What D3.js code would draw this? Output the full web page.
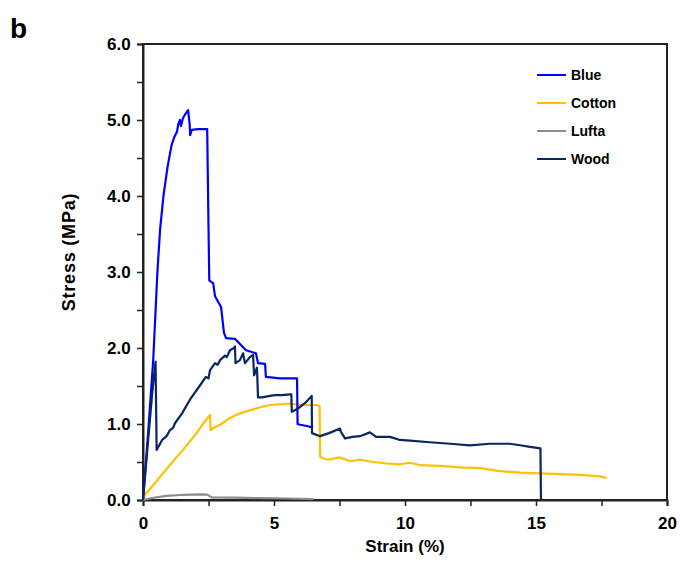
<!DOCTYPE html>
<html><head><meta charset="utf-8">
<script src="https://cdn.jsdelivr.net/npm/d3@7"></script>
<style>body{margin:0;background:#fff}svg{display:block}text{font-family:"Liberation Sans",Arial,sans-serif;font-weight:bold}</style>
</head><body><svg id="c" width="680" height="580"></svg>
<script>
const seriesNames = ["Blue","Cotton","Lufta","Wood"];
const seriesColors = ["#0000FF","#FFC000","#8C8C8C","#0A2662"];
const xTicks = [0,5,10,15,20];
const yTicks = [0,1,2,3,4,5,6];
const blue = [[0,0],[0.2,0.9],[0.39,1.84],[0.55,3.0],[0.65,3.55],[0.78,4.0],[0.94,4.39],[1.09,4.67],[1.2,4.78],[1.3,4.85],[1.35,4.95],[1.41,5.0],[1.45,4.92],[1.52,5.02],[1.6,5.07],[1.72,5.13],[1.78,4.95],[1.8,4.8],[1.86,4.87],[2.1,4.88],[2.45,4.88],[2.5,3.6],[2.53,2.89],[2.68,2.85],[2.75,2.68],[2.98,2.54],[3.09,2.2],[3.17,2.13],[3.51,2.12],[3.85,2.0],[3.93,1.97],[4.31,1.93],[4.39,1.8],[4.66,1.79],[4.69,1.62],[5.23,1.6],[5.88,1.6],[5.9,1.0],[6.0,0.99],[6.3,0.97],[6.49,0.95]];
const cotton = [[0,0],[0.1,0.08],[0.5,0.24],[1.0,0.45],[1.5,0.65],[2.0,0.86],[2.4,1.05],[2.56,1.12],[2.58,0.92],[2.75,0.96],[2.95,0.99],[3.32,1.08],[3.7,1.14],[4.08,1.18],[4.47,1.22],[4.85,1.25],[5.23,1.26],[5.61,1.27],[5.99,1.25],[6.56,1.25],[6.74,1.24],[6.76,0.57],[6.85,0.55],[7.06,0.53],[7.52,0.56],[7.9,0.51],[8.28,0.53],[8.8,0.5],[9.3,0.48],[9.81,0.47],[10.2,0.49],[10.57,0.46],[11.34,0.45],[12.1,0.43],[12.86,0.42],[13.63,0.38],[14.39,0.36],[15.15,0.35],[15.92,0.34],[16.68,0.33],[17.44,0.31],[17.7,0.29]];
const lufta = [[0,0],[0.4,0.03],[0.9,0.055],[1.41,0.066],[1.8,0.072],[2.18,0.075],[2.45,0.07],[2.62,0.035],[3.5,0.03],[4.5,0.025],[5.5,0.02],[6.5,0.012]];
const wood = [[0,0],[0.2,0.8],[0.35,1.4],[0.48,1.82],[0.52,0.66],[0.73,0.79],[0.9,0.84],[1.03,0.92],[1.15,0.95],[1.22,1.01],[1.49,1.14],[1.79,1.32],[2.18,1.51],[2.4,1.62],[2.5,1.6],[2.56,1.71],[2.75,1.8],[2.85,1.78],[2.94,1.84],[3.13,1.9],[3.2,1.88],[3.32,1.97],[3.47,2.0],[3.51,2.02],[3.53,1.8],[3.7,1.84],[3.82,1.93],[3.89,1.8],[4.08,1.88],[4.2,1.91],[4.24,1.64],[4.35,1.74],[4.39,1.35],[4.54,1.35],[4.85,1.37],[5.04,1.38],[5.31,1.38],[5.61,1.39],[5.66,1.39],[5.68,1.16],[5.9,1.2],[6.2,1.28],[6.44,1.37],[6.45,0.88],[6.76,0.84],[7.1,0.88],[7.52,0.94],[7.55,0.9],[7.71,0.81],[8.0,0.83],[8.28,0.84],[8.66,0.89],[8.9,0.83],[9.43,0.83],[9.81,0.79],[10.19,0.78],[10.95,0.76],[11.72,0.74],[12.48,0.72],[13.24,0.74],[14.0,0.74],[14.39,0.72],[14.77,0.7],[15.17,0.68],[15.19,0]];
const seriesData = [blue, cotton, lufta, wood];

const svg = d3.select("#c");
const L=143, T=44, W=524, H=456;
const x = d3.scaleLinear().domain([0,20]).range([L,L+W]);
const y = d3.scaleLinear().domain([0,6]).range([T+H,T]);

svg.append("rect").attr("x",L).attr("y",T).attr("width",W).attr("height",H)
  .attr("fill","none").attr("stroke","#222").attr("stroke-width",2);

const xAxis = svg.append("g").attr("transform",`translate(0,${T+H})`)
  .call(d3.axisBottom(x).tickValues(d3.range(0,20.01,2.5)).tickSize(6).tickFormat(d=>xTicks.includes(d)?d3.format("d")(d):""));
const yAxis = svg.append("g").attr("transform",`translate(${L},0)`)
  .call(d3.axisLeft(y).tickValues(d3.range(0,6.01,0.5)).tickSize(6).tickFormat(d=>yTicks.includes(d)?d3.format(".1f")(d):""));
[xAxis,yAxis].forEach(a=>{
  a.select(".domain").attr("stroke","#222").attr("stroke-width",2);
  a.selectAll(".tick line").attr("stroke","#222").attr("stroke-width",1.5);
  a.selectAll("text").attr("font-size",17).attr("fill","#000").attr("font-family","Liberation Sans, Arial, sans-serif").attr("font-weight","bold");
});
xAxis.selectAll("text").attr("dy","1.15em");
yAxis.selectAll("text").attr("dx","-0.2em");

const line = d3.line().x(d=>x(d[0])).y(d=>y(d[1]));
[2,1,0,3].forEach(i=>{
  svg.append("path").datum(seriesData[i]).attr("d",line).attr("fill","none")
    .attr("stroke",seriesColors[i]).attr("stroke-width",2.2).attr("stroke-linejoin","round");
});

seriesNames.forEach((n,i)=>{
  const yy = 75 + i*28;
  svg.append("line").attr("x1",537).attr("x2",566).attr("y1",yy).attr("y2",yy).attr("stroke",seriesColors[i]).attr("stroke-width",2);
  svg.append("text").attr("x",571).attr("y",yy+5).attr("font-size",14).text(n);
});

svg.append("text").attr("x",405).attr("y",552).attr("text-anchor","middle").attr("font-size",17).text("Strain (%)");
svg.append("text").attr("transform","translate(75,252) rotate(-90)").attr("text-anchor","middle").attr("font-size",18).attr("letter-spacing","0.8px").text("Stress (MPa)");
svg.append("text").attr("x",10).attr("y",38).attr("font-size",28).text("b");
</script></body></html>
